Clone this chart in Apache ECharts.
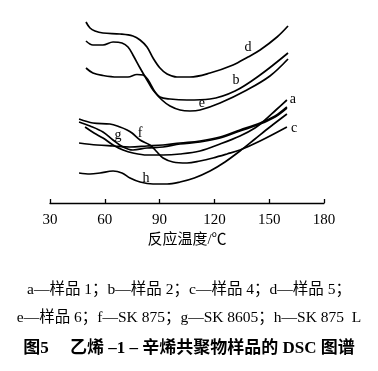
<!DOCTYPE html>
<html><head><meta charset="utf-8">
<script src="https://cdn.jsdelivr.net/npm/echarts@6/dist/echarts.min.js"></script>
<style>html,body{margin:0;padding:0;background:#fff}#c{width:378px;height:371px}</style>
</head><body><div id="c"></div>
<script>
// x tick labels (reaction temperature, °C)
const xTicks = [30, 60, 90, 120, 150, 180];
// DSC curves, [temperature °C, relative heat flow (arbitrary units)]
const curveA = [[49.2,7.6],[54.1,7.0],[59.0,6.5],[64.5,5.8],[70.0,5.3],[75.4,5.0],[83.1,4.8],[91.9,4.8],[101.2,4.9],[112.1,5.2],[123.1,5.9],[134.0,6.7],[142.2,7.5],[147.7,8.3],[153.7,9.3],[159.7,10.3]];
const curveB = [[49.7,16.2],[53.5,15.8],[59.0,15.8],[64.5,16.1],[69.4,16.0],[72.7,15.6],[75.4,14.8],[79.3,13.5],[83.1,12.3],[86.4,11.3],[90.2,10.6],[95.7,10.4],[105.0,10.3],[117.6,10.4],[131.3,11.2],[145.0,12.8],[160.3,15.0]];
const curveC = [[45.9,8.4],[53.5,8.0],[62.8,7.9],[68.3,7.6],[72.2,7.3],[74.9,7.0],[79.3,6.3],[84.7,5.8],[88.6,5.1],[91.9,4.5],[97.3,4.1],[105.0,4.0],[112.1,4.2],[119.2,4.5],[126.9,4.9],[134.0,5.3],[145.0,6.2],[159.7,7.6]];
const curveD = [[49.7,18.1],[51.9,17.5],[54.6,17.2],[59.0,17.0],[68.3,16.9],[75.4,16.7],[79.3,16.3],[83.1,15.6],[86.4,14.5],[90.2,13.5],[94.1,12.9],[99.5,12.6],[106.6,12.6],[117.6,13.0],[130.2,13.8],[138.4,14.6],[145.0,15.3],[154.3,16.6],[160.3,17.7]];
const curveE = [[49.7,13.5],[53.5,13.0],[59.0,12.75],[66.7,12.6],[72.7,12.6],[77.6,12.85],[80.9,12.8],[83.7,12.3],[87.5,11.1],[91.3,10.3],[95.7,9.7],[101.2,9.3],[106.6,9.2],[112.1,9.3],[123.1,10.0],[137.8,11.3],[150.4,12.7],[160.3,14.4]];
const curveF = [[45.9,6.0],[55.7,5.8],[64.5,5.7],[73.8,5.6],[83.1,5.7],[91.9,5.8],[101.2,6.0],[112.1,6.2],[123.1,6.6],[134.0,7.3],[145.0,8.0],[153.2,8.7],[159.7,9.6]];
const curveG = [[45.9,8.1],[51.9,7.7],[59.0,7.1],[64.5,6.3],[70.0,5.6],[75.4,5.3],[83.1,5.5],[91.9,5.6],[101.2,5.9],[112.1,6.1],[123.1,6.5],[134.0,7.2],[145.0,7.9],[153.2,8.6],[159.7,9.5]];
const curveH = [[45.9,3.0],[51.9,2.9],[57.4,3.0],[64.5,3.2],[69.4,3.0],[73.8,2.5],[79.3,2.1],[86.4,1.9],[94.1,1.9],[101.2,2.1],[109.0,2.5],[117.6,3.2],[125.8,4.1],[134.0,5.2],[142.2,6.4],[150.4,7.6],[159.7,8.9]];
const curveNames = ['a','b','c','d','e','f','g','h'];
const curves = [curveA, curveB, curveC, curveD, curveE, curveF, curveG, curveH];
// where each curve letter is written (data coordinates)
const labelAt = {a:[163.0,10.4], b:[131.8,12.3], c:[163.6,7.5], d:[138.4,15.6], e:[113.2,10.0], f:[79.3,7.0], g:[67.2,6.8], h:[82.6,2.5]};
const xName = '反应温度/℃';
const captionLines = [
  'a—样品 1；b—样品 2；c—样品 4；d—样品 5；',
  'e—样品 6；f—SK 875；g—SK 8605；h—SK 875  L',
  '图5　 乙烯 –1 – 辛烯共聚物样品的 DSC 图谱'
];

const serif = '"Liberation Serif","Noto Sans CJK SC",serif';
const chart = echarts.init(document.getElementById('c'), null, {renderer:'canvas'});
chart.setOption({
  animation: false,
  backgroundColor: '#fff',
  grid: {left: 50, right: 54, top: 3, bottom: 168},
  xAxis: {
    type: 'value', min: xTicks[0], max: xTicks[xTicks.length-1], interval: 30,
    axisLine: {lineStyle: {color: '#000', width: 1.3}},
    axisTick: {inside: true, length: 4, lineStyle: {color: '#000', width: 1.3}},
    axisLabel: {color: '#000', fontFamily: serif, fontSize: 15, margin: 10},
    splitLine: {show: false},
    name: xName, nameLocation: 'middle', nameGap: 30,
    nameTextStyle: {color: '#000', fontFamily: serif, fontSize: 15}
  },
  yAxis: {type: 'value', min: 0, max: 20, show: false},
  series: curves.map((d, i) => ({
    type: 'line', name: curveNames[i], data: d, smooth: 0.35,
    showSymbol: false, symbol: 'none',
    lineStyle: {color: '#000', width: 1.7},
    silent: true,
    markPoint: {
      symbol: 'circle', symbolSize: 0, silent: true,
      label: {show: true, position: 'inside', color: '#000', fontFamily: serif, fontSize: 14, formatter: curveNames[i]},
      data: [{coord: labelAt[curveNames[i]]}]
    }
  })),
  graphic: captionLines.map((t, i) => ({
    type: 'text', left: 'center', top: [282, 310, 340][i],
    style: {text: t, fill: '#000', font: (i === 2 ? 'bold 17px ' : '15.5px ') + serif}
  }))
});
</script></body></html>
